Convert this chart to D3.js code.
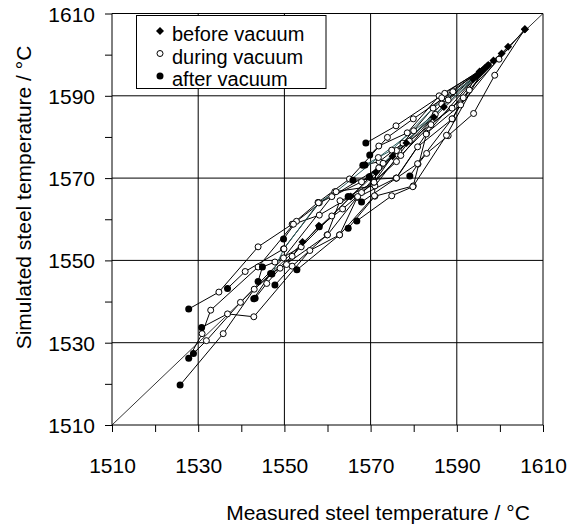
<!DOCTYPE html>
<html lang="en">

<head>
  <meta charset="UTF-8">
  <title>Simulated vs measured steel temperature</title>
  <style>
    body { margin: 0; background: #fff; }
    text { font-family: Arial, "Liberation Sans", sans-serif; fill: #000; }
    .grid line { stroke: #000; stroke-width: 1; }
    .heat { fill: none; stroke: #000; stroke-width: 1; }
  </style>
</head>

<body>
  <script src="https://d3js.org/d3.v7.min.js"></script>
  <script>
    // each point: [measured, simulated, stage]  (b = before, d = during, a = after vacuum)
    const heat01 = [[1605.8, 1606.2, 'b'], [1598.8, 1595, 'd'], [1593.9, 1585.7, 'd'], [1588, 1580.3, 'd'], [1583, 1576, 'd'], [1581, 1573.4, 'd'], [1579.1, 1570.5, 'a']];
    const heat02 = [[1605.8, 1606.2, 'b'], [1599.8, 1598.9, 'd'], [1592.9, 1591.4, 'd'], [1589, 1584.4, 'd'], [1580.9, 1577.6, 'd'], [1576, 1570, 'd'], [1567.9, 1564.2, 'a']];
    const heat03 = [[1601.9, 1601.9, 'b'], [1590.9, 1587.8, 'd'], [1583, 1580.9, 'd'], [1579.9, 1568.1, 'd'], [1571, 1565.6, 'd'], [1564.8, 1557.8, 'a']];
    const heat04 = [[1600.4, 1600.3, 'b'], [1589.1, 1591, 'd'], [1579.9, 1584.4, 'd'], [1573.9, 1579.9, 'd'], [1565.1, 1569.8, 'd'], [1557.8, 1564.1, 'd'], [1551.8, 1558.8, 'd'], [1543.9, 1553.3, 'd'], [1534.8, 1542.3, 'd'], [1527.8, 1538.2, 'a']];
    const heat05 = [[1597.3, 1597.5, 'b'], [1587.2, 1590.6, 'd'], [1575.9, 1582.7, 'd'], [1568.9, 1578.5, 'a']];
    const heat06 = [[1596.4, 1596.6, 'b'], [1585.9, 1590, 'd'], [1578.5, 1581, 'd'], [1571.9, 1577.8, 'd'], [1569.8, 1575.6, 'a']];
    const heat07 = [[1595.8, 1596, 'b'], [1588.9, 1587, 'd'], [1579, 1579, 'd'], [1571, 1568.1, 'd'], [1561.7, 1566.7, 'd'], [1552.8, 1559.5, 'd'], [1549.8, 1555.2, 'a']];
    const heat08 = [[1595.3, 1595.9, 'b'], [1586.5, 1588, 'd'], [1576.5, 1576.5, 'd'], [1567.9, 1569.1, 'd'], [1558.1, 1564, 'd'], [1549.8, 1552.8, 'd'], [1540.9, 1547.3, 'd'], [1536.8, 1543.2, 'a']];
    const heat09 = [[1594.8, 1595, 'b'], [1582.9, 1580.7, 'd'], [1575.9, 1570, 'd'], [1566.9, 1565.3, 'd'], [1562.8, 1556.2, 'd'], [1555.9, 1552.4, 'd'], [1542.9, 1536.3, 'd'], [1536.8, 1537, 'd'], [1530.8, 1533.7, 'a']];
    const heat10 = [[1584.7, 1584.8, 'b'], [1577.5, 1578.5, 'd'], [1572, 1574, 'd'], [1568.2, 1573.1, 'a']];
    const heat11 = [[1578.3, 1578.5, 'b'], [1571.9, 1572.5, 'd'], [1561, 1565.5, 'd'], [1549.8, 1550.6, 'd'], [1539.8, 1539.8, 'd'], [1531.9, 1530.5, 'd'], [1528.9, 1527.4, 'a']];
    const heat12 = [[1575.1, 1575.3, 'b'], [1567.9, 1566.5, 'd'], [1562.9, 1564.5, 'd'], [1559.9, 1556.2, 'd'], [1551.8, 1548.6, 'd'], [1547.8, 1544, 'a']];
    const heat13 = [[1569.8, 1570.2, 'b'], [1561, 1560.8, 'd'], [1553.9, 1553.3, 'd'], [1547.8, 1549.6, 'd'], [1544.9, 1548.4, 'a'], [1543.9, 1544.9, 'a']];
    const heat14 = [[1565.4, 1565.5, 'b'], [1558.1, 1561, 'd'], [1552.1, 1558.8, 'd'], [1543.9, 1548.4, 'd'], [1532.9, 1537.9, 'd'], [1530.9, 1532.2, 'd'], [1527.8, 1526.2, 'a']];
    const heat15 = [[1558, 1558.4, 'b'], [1551.8, 1551, 'd'], [1543, 1543, 'd'], [1535.8, 1532.2, 'd'], [1525.8, 1519.7, 'a']];
    const heat16 = [[1554.2, 1554.5, 'b'], [1550.5, 1549, 'd'], [1546.8, 1546.8, 'a'], [1542.9, 1540.7, 'a']];
    const heat17 = [[1571.2, 1571.4, 'b'], [1570.9, 1565.7, 'd'], [1562.8, 1556.2, 'd'], [1552.9, 1547.7, 'a']];
    const heat18 = [[1596, 1596.2, 'b'], [1587.6, 1580.4, 'd'], [1579.8, 1567.9, 'd'], [1574.9, 1565.7, 'd'], [1566.8, 1559.6, 'a']];
    const heat19 = [[1594.5, 1594.8, 'b'], [1588.9, 1584.4, 'd'], [1580.9, 1573.5, 'd'], [1576, 1570, 'd'], [1565.9, 1569.5, 'a']];
    const heat20 = [[1597, 1597.2, 'b'], [1586.5, 1589.5, 'd'], [1576, 1576.7, 'd'], [1570.8, 1569, 'd'], [1564.8, 1565.5, 'a']];
    const heat21 = [[1596.6, 1596.8, 'b'], [1588, 1589, 'd'], [1576, 1574, 'd'], [1567, 1565.5, 'd'], [1560, 1556.2, 'd'], [1549, 1548.1, 'd'], [1545.9, 1544.4, 'd'], [1543.2, 1540.8, 'a']];
    const heat22 = [[1595.6, 1595.7, 'b'], [1584.5, 1587, 'd'], [1574.9, 1576.8, 'd'], [1568.7, 1573.2, 'a']];
    const heat23 = [[1593.8, 1594, 'b'], [1585, 1585.5, 'd'], [1572.9, 1573.6, 'd'], [1569.7, 1570.3, 'a']];
    const heat24 = [[1587, 1587.3, 'b'], [1580, 1581.5, 'd'], [1571.8, 1575, 'd'], [1562, 1566.7, 'd'], [1557.9, 1564, 'd'], [1549.9, 1552.8, 'd'], [1547.1, 1546.7, 'a']];
    const heat25 = [[1598.5, 1598.6, 'b'], [1591.5, 1589.5, 'd'], [1584, 1583, 'd'], [1577, 1575.5, 'd'], [1570.8, 1569, 'd'], [1563.5, 1562.5, 'd'], [1558.1, 1558.2, 'a']];

    const heats = [heat01, heat02, heat03, heat04, heat05, heat06, heat07, heat08, heat09, heat10,
      heat11, heat12, heat13, heat14, heat15, heat16, heat17, heat18, heat19, heat20,
      heat21, heat22, heat23, heat24, heat25];
    // a few traces in the original are drawn in a dark teal
    const tealHeats = [heat22, heat23, heat24];

    const stageCodes = ['b', 'd', 'a'];
    const stageNames = ['before vacuum', 'during vacuum', 'after vacuum'];
    const axisDomain = [1510, 1610];
    const labelTicks = [1510, 1530, 1550, 1570, 1590, 1610];
    const minorTicks = [1510, 1520, 1530, 1540, 1550, 1560, 1570, 1580, 1590, 1600, 1610];

    const W = 576, H = 526;
    const plotLeft = 112, plotRight = 543, plotTop = 13.5, plotBottom = 425;

    const svg = d3.select('body').append('svg')
      .attr('width', W)
      .attr('height', H);

    const x = d3.scaleLinear().domain(axisDomain).range([plotLeft, plotRight]);
    const y = d3.scaleLinear().domain(axisDomain).range([plotBottom, plotTop]);

    // grid lines
    const grid = svg.append('g').attr('class', 'grid');
    grid.selectAll('.gx').data(labelTicks.slice(1, -1)).enter()
      .append('line')
      .attr('x1', d => x(d)).attr('x2', d => x(d))
      .attr('y1', plotTop).attr('y2', plotBottom);
    grid.selectAll('.gy').data(labelTicks.slice(1, -1)).enter()
      .append('line')
      .attr('y1', d => y(d)).attr('y2', d => y(d))
      .attr('x1', plotLeft).attr('x2', plotRight);

    // axes
    const xAxis = d3.axisBottom(x).tickValues(minorTicks).tickSize(7).tickFormat(d => labelTicks.includes(d) ? d : '');
    const yAxis = d3.axisLeft(y).tickValues(minorTicks).tickSize(7).tickFormat(d => labelTicks.includes(d) ? d : '');

    const gx = svg.append('g').attr('transform', `translate(0,${plotBottom})`).call(xAxis);
    gx.select('.domain').attr('d', `M${plotLeft},0H${plotRight}`);
    gx.selectAll('text').attr('font-size', 21).attr('font-family', 'Arial, "Liberation Sans", sans-serif')
      .attr('y', 0).attr('dy', 48);

    const gy = svg.append('g').attr('transform', `translate(${plotLeft},0)`).call(yAxis);
    gy.select('.domain').attr('d', `M0,${plotTop}V${plotBottom}`);
    gy.selectAll('text').attr('font-size', 21).attr('font-family', 'Arial, "Liberation Sans", sans-serif')
      .attr('x', -17).attr('dy', '0.36em');

    svg.selectAll('.domain, .tick line').attr('stroke', '#000');

    // frame top + right
    svg.append('path')
      .attr('d', `M${plotLeft},${plotTop}H${plotRight}V${plotBottom}`)
      .attr('fill', 'none').attr('stroke', '#000');

    // 1:1 line
    svg.append('line')
      .attr('x1', x(axisDomain[0])).attr('y1', y(axisDomain[0]))
      .attr('x2', x(axisDomain[1])).attr('y2', y(axisDomain[1]))
      .attr('stroke', '#000').attr('stroke-width', 0.8);

    // heats
    const line = d3.line().x(d => x(d[0])).y(d => y(d[1]));
    svg.append('g').selectAll('path').data(heats).enter()
      .append('path')
      .attr('class', 'heat')
      .style('stroke', d => tealHeats.includes(d) ? '#2d5e5e' : '#000')
      .attr('d', line);

    // square diamond, ~8px across
    const diamondPath = 'M0,-4L4,0L0,4L-4,0Z';

    function drawMarker(g, stage) {
      if (stage === 'b') {
        g.append('path').attr('d', diamondPath).attr('fill', '#000');
      } else if (stage === 'd') {
        g.append('circle').attr('r', 3).attr('fill', '#fff').attr('stroke', '#000').attr('stroke-width', 1);
      } else {
        g.append('circle').attr('r', 3.5).attr('fill', '#000');
      }
    }

    const pts = heats.flat();
    const order = ['d', 'a', 'b'];
    order.forEach(st => {
      pts.filter(p => p[2] === st).forEach(p => {
        const g = svg.append('g').attr('transform', `translate(${x(p[0])},${y(p[1])})`);
        drawMarker(g, st);
      });
    });

    // legend
    const lg = svg.append('g');
    lg.append('rect')
      .attr('x', 136.5).attr('y', 15.5)
      .attr('width', 189.5).attr('height', 73)
      .attr('fill', '#fff').attr('stroke', '#000');
    stageCodes.forEach((st, i) => {
      const row = lg.append('g').attr('transform', `translate(0,${i * 22.5})`);
      drawMarker(row.append('g').attr('transform', 'translate(160,31)'), st);
      row.append('text')
        .attr('x', 172).attr('y', 41)
        .attr('font-size', 20)
        .text(stageNames[i]);
    });

    // axis titles
    svg.append('text')
      .attr('x', 378).attr('y', 520)
      .attr('text-anchor', 'middle')
      .attr('font-size', 21)
      .text('Measured steel temperature / °C');

    svg.append('text')
      .attr('transform', 'translate(31,197.5) rotate(-90)')
      .attr('text-anchor', 'middle')
      .attr('font-size', 21)
      .text('Simulated steel temperature / °C');
  </script>
</body>

</html>
